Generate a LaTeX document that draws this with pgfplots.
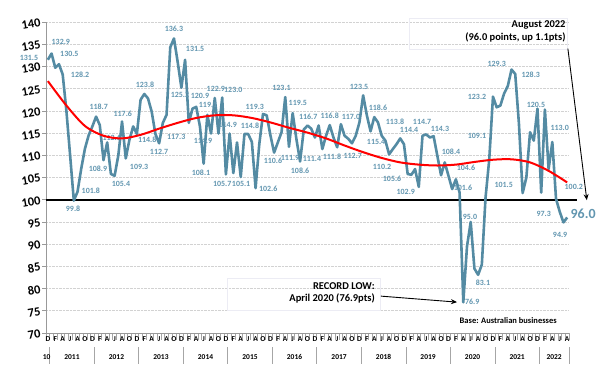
\documentclass[border=0pt]{standalone}
\usepackage{pgfplots}
\pgfplotsset{compat=1.18}
\usepackage{fontspec}
\setmainfont{Carlito}
\usetikzlibrary{arrows.meta}
\definecolor{lineblue}{RGB}{84,139,163}
\definecolor{lblblue}{RGB}{98,150,176}
\begin{document}
\begin{tikzpicture}[x=1bp,y=1bp,
  lbl/.style={font=\bfseries\fontsize{8}{8}\selectfont, text=lblblue, inner sep=0pt},
  yr/.style={font=\bfseries\fontsize{7.5}{7.5}\selectfont, inner sep=0pt}]
\useasboundingbox (0,0) rectangle (602,366);
\begin{axis}[
  at={(46bp,33bp)}, anchor=south west, scale only axis,
  width=523bp, height=311bp,
  xmin=-0.5, xmax=140.5, ymin=70, ymax=140,
  clip=false,
  axis x line*=bottom, axis y line*=left,
  axis line style={draw=gray!80, line width=0.8bp},
  ytick={70,75,...,140},
  /pgf/number format/assume math mode=true,
  yticklabel style={font=\bfseries\fontsize{12.5}{12.5}\selectfont, rotate=10, anchor=east, inner sep=1.5bp},
  tick align=outside,
  major tick length=4bp,
  minor tick length=7bp,
  ytick style={draw=gray!80, line width=0.6bp},
  major x tick style={draw=none},
  minor x tick style={draw=gray!70, line width=0.6bp},
  xtick={0,2,...,140},
  minor xtick={-0.5,0.5,...,140.5},
  xticklabels={D,F,A,J,A,O,D,F,A,J,A,O,D,F,A,J,A,O,D,F,A,J,A,O,D,F,A,J,A,O,D,F,A,J,A,O,D,F,A,J,A,O,D,F,A,J,A,O,D,F,A,J,A,O,D,F,A,J,A,O,D,F,A,J,A,O,D,F,A,J,A},
  xticklabel style={font=\bfseries\fontsize{7.5}{7.5}\selectfont, inner sep=0.5bp, yshift=1.5bp},
  ymajorgrids,
  major grid style={densely dotted, gray!35, line width=0.6bp},
]
% base line at 100
\addplot[black, line width=1.6bp] coordinates {(-0.5,100) (142.6,100)};
% data
\addplot[lineblue, line width=2.6bp, line join=round] table {
i v
0 131.5
1 132.9
2 129.7
3 130.5
4 128.2
5 120.0
6 110.0
7 99.8
8 101.8
9 107.0
10 111.5
11 114.5
12 116.5
13 118.7
14 116.8
15 108.9
16 112.9
17 105.8
18 105.4
19 110.0
20 117.6
21 109.3
22 113.5
23 116.5
24 114.8
25 122.5
26 123.8
27 122.8
28 119.8
29 114.8
30 112.7
31 117.3
32 119.1
33 134.3
34 136.3
35 131.0
36 125.2
37 131.5
38 117.3
39 120.5
40 120.9
41 116.5
42 108.1
43 119.1
44 114.9
45 122.9
46 114.9
47 123.0
48 105.7
49 114.9
50 106.0
51 112.9
52 105.1
53 114.8
54 114.8
55 113.0
56 102.6
57 112.5
58 119.3
59 119.0
60 114.5
61 110.6
62 112.9
63 115.2
64 123.1
65 111.9
66 119.5
67 113.7
68 108.6
69 115.8
70 116.7
71 116.0
72 114.0
73 116.7
74 111.4
75 114.4
76 116.8
77 114.0
78 111.8
79 117.0
80 114.4
81 113.7
82 112.7
83 114.4
84 117.4
85 123.5
86 119.0
87 115.4
88 118.6
89 117.4
90 114.4
91 113.3
92 110.2
93 111.4
94 112.5
95 113.8
96 112.5
97 105.8
98 105.6
99 106.9
100 102.9
101 114.4
102 114.7
103 114.0
104 114.3
105 109.9
106 105.5
107 108.4
108 105.4
109 102.4
110 104.6
111 101.6
112 76.9
113 89.5
114 95.0
115 84.5
116 83.1
117 85.4
118 100.5
119 109.1
120 123.2
121 120.8
122 121.2
123 123.9
124 125.6
125 129.3
126 128.3
127 117.1
128 101.5
129 105.0
130 115.2
131 113.3
132 120.5
133 101.6
134 120.3
135 106.9
136 113.0
137 100.2
138 97.3
139 94.9
140 96.0
};
% data labels
\node[lbl] at (axis cs:-5.1,131.9) {131.5};
\node[lbl] at (axis cs:3.5,135.5) {132.9};
\node[lbl] at (axis cs:5.8,132.8) {130.5};
\node[lbl] at (axis cs:8.7,128.1) {128.2};
\node[lbl] at (axis cs:6.8,98.0) {99.8};
\node[lbl] at (axis cs:11.6,102.0) {101.8};
\node[lbl] at (axis cs:13.7,120.9) {118.7};
\node[lbl] at (axis cs:13.5,107.0) {108.9};
\node[lbl] at (axis cs:17.2,114.0) {112.6};
\node[lbl] at (axis cs:20.2,119.4) {117.6};
\node[lbl] at (axis cs:19.7,103.6) {105.4};
\node[lbl] at (axis cs:24.6,107.3) {109.3};
\node[lbl] at (axis cs:26.8,113.4) {114.8};
\node[lbl] at (axis cs:26.2,125.9) {123.8};
\node[lbl] at (axis cs:30.0,110.7) {112.7};
\node[lbl] at (axis cs:34.0,138.4) {136.3};
\node[lbl] at (axis cs:35.6,123.6) {125.2};
\node[lbl] at (axis cs:34.6,114.1) {117.3};
\node[lbl] at (axis cs:39.7,133.9) {131.5};
\node[lbl] at (axis cs:41.0,123.3) {120.9};
\node[lbl] at (axis cs:43.2,121.4) {119.1};
\node[lbl] at (axis cs:45.3,125.0) {122.9};
\node[lbl] at (axis cs:50.0,124.8) {123.0};
\node[lbl] at (axis cs:41.8,113.2) {114.9};
\node[lbl] at (axis cs:41.3,106.0) {108.1};
\node[lbl] at (axis cs:48.5,116.8) {114.9};
\node[lbl] at (axis cs:54.5,116.6) {114.8};
\node[lbl] at (axis cs:47.0,103.5) {105.7};
\node[lbl] at (axis cs:52.1,103.5) {105.1};
\node[lbl] at (axis cs:59.4,102.4) {102.6};
\node[lbl] at (axis cs:55.8,120.9) {119.3};
\node[lbl] at (axis cs:60.7,108.8) {110.6};
\node[lbl] at (axis cs:65.3,109.4) {111.9};
\node[lbl] at (axis cs:68.0,106.6) {108.6};
\node[lbl] at (axis cs:63.0,125.1) {123.1};
\node[lbl] at (axis cs:67.4,121.7) {119.5};
\node[lbl] at (axis cs:70.2,118.7) {116.7};
\node[lbl] at (axis cs:76.0,119.0) {116.8};
\node[lbl] at (axis cs:81.7,118.6) {117.0};
\node[lbl] at (axis cs:71.2,109.2) {111.4};
\node[lbl] at (axis cs:76.6,109.6) {111.8};
\node[lbl] at (axis cs:82.2,109.8) {112.7};
\node[lbl] at (axis cs:83.9,125.4) {123.5};
\node[lbl] at (axis cs:89.0,120.6) {118.6};
\node[lbl] at (axis cs:88.5,113.0) {115.4};
\node[lbl] at (axis cs:93.6,117.6) {113.8};
\node[lbl] at (axis cs:90.1,107.3) {110.2};
\node[lbl] at (axis cs:92.8,104.6) {105.6};
\node[lbl] at (axis cs:96.5,101.7) {102.9};
\node[lbl] at (axis cs:97.4,115.7) {114.4};
\node[lbl] at (axis cs:100.9,117.6) {114.7};
\node[lbl] at (axis cs:105.7,115.9) {114.3};
\node[lbl] at (axis cs:108.7,110.7) {108.4};
\node[lbl] at (axis cs:112.7,107.1) {104.6};
\node[lbl] at (axis cs:111.9,102.6) {101.6};
\node[lbl] at (axis cs:115.7,114.3) {109.1};
\node[lbl] at (axis cs:113.8,96.1) {95.0};
\node[lbl] at (axis cs:117.3,81.2) {83.1};
\node[lbl] at (axis cs:114.4,77.0) {76.9};
\node[lbl] at (axis cs:115.7,123.1) {123.2};
\node[lbl] at (axis cs:121.0,130.5) {129.3};
\node[lbl] at (axis cs:130.2,128.1) {128.3};
\node[lbl] at (axis cs:131.6,121.3) {120.5};
\node[lbl] at (axis cs:122.9,103.3) {101.5};
\node[lbl] at (axis cs:138.0,116.1) {113.0};
\node[lbl] at (axis cs:141.8,102.8) {100.2};
\node[lbl] at (axis cs:133.7,96.8) {97.3};
\node[lbl] at (axis cs:138.1,92.0) {94.9};
\node[lbl, font=\bfseries\fontsize{14}{14}\selectfont] at (axis cs:144.3,96.8) {96.0};
% trend line
\addplot[red, line width=2bp, smooth] coordinates {
(0,126.7) (5,121.2) (10,116.6) (15,114.4) (20,113.8) (25,114.6) (30,116.0)
(35,117.3) (40,118.4) (45,119.0) (50,119.0) (55,118.4) (60,117.4) (65,116.2)
(70,115.1) (75,113.8) (80,112.2) (85,110.7) (90,109.4) (95,108.4) (100,107.9)
(105,107.7) (110,107.9) (115,108.5) (120,109.0) (125,109.1) (130,108.4)
(135,106.5) (140,103.9)};
% annotations
\draw[blue!25!gray!12, line width=0.5bp] (axis cs:97.4,140.9) rectangle (axis cs:139.9,133.9);
\node[anchor=north east, align=right, inner sep=0pt, font=\bfseries\fontsize{10.5}{12.5}\selectfont]
  at (axis cs:139.6,140.3) {August 2022\\(96.0 points, up 1.1pts)};
\draw[-{Stealth[length=6bp,width=5bp]}, line width=0.9bp] (axis cs:140.2,134.0) -- (axis cs:145.3,99.9);
\draw[blue!25!gray!12, line width=0.5bp] (axis cs:48.3,82.3) rectangle (axis cs:89.6,75.1);
\node[anchor=north east, align=right, inner sep=0pt, font=\bfseries\fontsize{10.5}{12.5}\selectfont]
  at (axis cs:88.2,81.4) {RECORD LOW:\\April 2020 (76.9pts)};
\draw[-{Stealth[length=6bp,width=5bp]}, line width=0.9bp] (axis cs:89.8,78.3) -- (axis cs:110.3,76.95);
\node[font=\bfseries\fontsize{8.5}{8.5}\selectfont, inner sep=0pt] at (axis cs:124.1,72.9) {Base: Australian businesses};
% year separators
\pgfplotsinvokeforeach{0.5,12.5,24.5,36.5,48.5,60.5,72.5,84.5,96.5,108.5,120.5,132.5,140.5}{
  \draw[gray!70, line width=0.6bp] (axis cs:#1,66.8) -- (axis cs:#1,63.0);
}
\node[yr] at (axis cs:-0.3,64.55) {10};
\node[yr] at (axis cs:6.5,64.55) {2011};
\node[yr] at (axis cs:18.5,64.55) {2012};
\node[yr] at (axis cs:30.5,64.55) {2013};
\node[yr] at (axis cs:42.5,64.55) {2014};
\node[yr] at (axis cs:54.5,64.55) {2015};
\node[yr] at (axis cs:66.5,64.55) {2016};
\node[yr] at (axis cs:78.5,64.55) {2017};
\node[yr] at (axis cs:90.5,64.55) {2018};
\node[yr] at (axis cs:102.5,64.55) {2019};
\node[yr] at (axis cs:114.5,64.55) {2020};
\node[yr] at (axis cs:126.5,64.55) {2021};
\node[yr] at (axis cs:136.5,64.55) {2022};
\end{axis}
\end{tikzpicture}
\end{document}
